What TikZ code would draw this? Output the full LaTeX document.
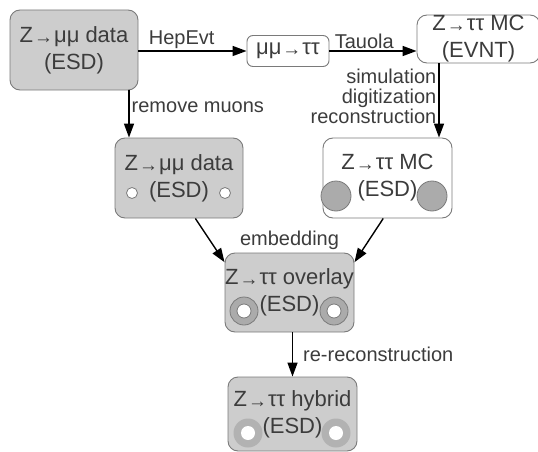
\documentclass[tikz,border=0pt]{standalone}
\usepackage{fontspec}
\setmainfont{Liberation Sans}
\usetikzlibrary{arrows.meta,positioning}
\definecolor{boxgray}{HTML}{CDCDCD}
\definecolor{edgegray}{HTML}{7A7A7A}
\definecolor{txtgray}{HTML}{3C3C3C}
\definecolor{holegray}{HTML}{ABABAB}
\definecolor{ringgray}{HTML}{B2B2B2}
\newcommand{\zarr}{\kern1pt\raisebox{-1pt}{\fontsize{19}{19}\selectfont →}\kern1pt}

\begin{document}
\begin{tikzpicture}[x=1pt,y=-1pt,>={Triangle[length=14pt,width=10pt]},
 every node/.style={font=\fontsize{22}{27}\selectfont,text=txtgray},
 box/.style={draw=edgegray,line width=0.9pt,rounded corners=10pt,inner sep=0pt,align=center},
 filebox/.style={box,fill=boxgray},
 lbl/.style={font=\fontsize{20}{20}\selectfont,inner sep=2pt},
 flow/.style={->,line width=1.4pt},
 hole/.style={draw=edgegray,fill=white,line width=0.8pt},
 blob/.style={draw=edgegray,fill=holegray,line width=0.8pt}]
\useasboundingbox (0,0) rectangle (538,452);
\node[filebox,minimum width=128pt,minimum height=80pt](dmu) at (74,50){Z\zarr μμ data\\(ESD)};
\node[box,rounded corners=6pt,fill=white,minimum width=82pt,minimum height=31pt](conv) at (288,51){μμ\zarr ττ};
\node[box,fill=white,minimum width=123pt,minimum height=48pt](evnt) at (478.5,39){Z\zarr ττ MC\\(EVNT)};
\node[filebox,minimum width=128pt,minimum height=80pt](dnomu) at (179,178){Z\zarr μμ data\\(ESD)};
\node[box,fill=white,minimum width=129pt,minimum height=80pt](mcesd) at (387.5,178){Z\zarr ττ MC\\(ESD)};
\node[filebox,minimum width=129pt,minimum height=79pt](overlay) at (289.5,292.5){Z\zarr ττ overlay\\(ESD)};
\node[filebox,minimum width=129pt,minimum height=74pt](hybrid) at (292.5,414){Z\zarr ττ hybrid\\(ESD)};
% muon holes and tau blobs
\foreach \cx in {132,225} \draw[hole] (\cx,193) circle (5.5pt);
\foreach \cx in {336,432} \draw[blob] (\cx,196) circle (15pt);
\foreach \cx in {244,334}{\draw[blob] (\cx,311) circle (14pt); \draw[hole] (\cx,311) circle (7pt);}
\foreach \cx in {248,336}{\fill[ringgray] (\cx,433) circle (14.5pt); \fill[white] (\cx,433) circle (7pt);}
% arrows
\draw[flow](dmu.east |- conv.west)--node[lbl,above,pos=0.4]{HepEvt}(conv.west);
\draw[flow](conv.east)--node[lbl,above,pos=0.4]{Tauola}(conv.east -| evnt.west);
\draw[flow]([xshift=55pt]dmu.south)--node[lbl,right,pos=0.35]{remove muons}([xshift=55pt]dmu.south |- dnomu.north);
\draw[flow]([xshift=-39.5pt]evnt.south)--node[lbl,left,align=right,pos=0.45]{simulation\\digitization\\reconstruction}([xshift=-39.5pt]evnt.south |- mcesd.north);
\draw[flow](dnomu.-68)--(overlay.155);
\draw[flow](mcesd.-96)--(overlay.25);
\node[lbl,above=1pt of overlay](emb){embedding};
\draw[flow](overlay.south -| hybrid.north)--node[lbl,right,xshift=8pt]{re-reconstruction}(hybrid.north);
\end{tikzpicture}
\end{document}
